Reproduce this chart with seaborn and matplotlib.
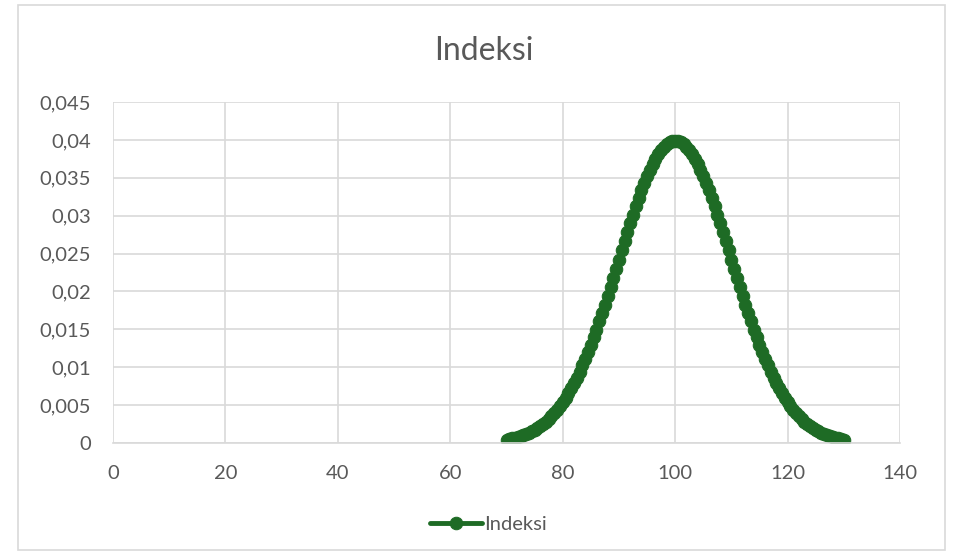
import matplotlib
matplotlib.use("Agg")
import matplotlib.pyplot as plt
import seaborn as sns
import pandas as pd
from matplotlib.ticker import FuncFormatter, MultipleLocator
from matplotlib.patches import Rectangle

# Data (x from 70 to 130, step 0.5)
x_values = [70 + 0.5 * i for i in range(121)]
y_values = [
    0.00044, 0.00051, 0.00060, 0.00069, 0.00079, 0.00091, 0.00104, 0.00119,
    0.00136, 0.00155, 0.00175, 0.00198, 0.00224, 0.00252, 0.00283, 0.00317,
    0.00355, 0.00396, 0.00440, 0.00488, 0.00540, 0.00596, 0.00656, 0.00721,
    0.00790, 0.00863, 0.00940, 0.01023, 0.01109, 0.01200, 0.01295, 0.01394,
    0.01497, 0.01604, 0.01714, 0.01826, 0.01942, 0.02059, 0.02179, 0.02299,
    0.02420, 0.02541, 0.02661, 0.02780, 0.02897, 0.03011, 0.03123, 0.03230,
    0.03332, 0.03429, 0.03521, 0.03605, 0.03683, 0.03752, 0.03814, 0.03867,
    0.03910, 0.03945, 0.03970, 0.03984, 0.03989,
    0.03984, 0.03970, 0.03945, 0.03910, 0.03867, 0.03814, 0.03752, 0.03683,
    0.03605, 0.03521, 0.03429, 0.03332, 0.03230, 0.03123, 0.03011, 0.02897,
    0.02780, 0.02661, 0.02541, 0.02420, 0.02299, 0.02179, 0.02059, 0.01942,
    0.01826, 0.01714, 0.01604, 0.01497, 0.01394, 0.01295, 0.01200, 0.01109,
    0.01023, 0.00940, 0.00863, 0.00790, 0.00721, 0.00656, 0.00596, 0.00540,
    0.00488, 0.00440, 0.00396, 0.00355, 0.00317, 0.00283, 0.00252, 0.00224,
    0.00198, 0.00175, 0.00155, 0.00136, 0.00119, 0.00104, 0.00091, 0.00079,
    0.00069, 0.00060, 0.00051, 0.00044,
]
series_name = "Indeksi"
title = "Indeksi"

df = pd.DataFrame({"x": x_values, "y": y_values})

sns.set_style("white")
plt.rcParams["font.family"] = ["Lato", "DejaVu Sans"]

green = "#1e6b25"
text_gray = "#595959"
grid_gray = "#d9d9d9"

fig = plt.figure(figsize=(9.54, 5.54), dpi=100)
ax = fig.add_axes([0.1185, 0.2004, 0.8249, 0.6155])

sns.lineplot(data=df, x="x", y="y", ax=ax, color=green, linewidth=3.5,
             marker="o", markersize=9, markeredgecolor=green,
             label=series_name, sort=False)

ax.set_xlim(0, 140)
ax.set_ylim(0, 0.045)
ax.xaxis.set_major_locator(MultipleLocator(20))
ax.yaxis.set_major_locator(MultipleLocator(0.005))
ax.yaxis.set_major_formatter(FuncFormatter(lambda v, p: f"{round(v, 3):g}".replace(".", ",")))

ax.grid(True, color=grid_gray, linewidth=1.2)
ax.set_axisbelow(True)
for side in ["top", "right", "left"]:
    ax.spines[side].set_visible(False)
ax.spines["bottom"].set_color(grid_gray)
ax.spines["bottom"].set_linewidth(1.2)

ax.tick_params(axis="y", length=0, labelsize=14.5, colors=text_gray, pad=16)
ax.tick_params(axis="x", length=0, labelsize=14.5, colors=text_gray, pad=16)
ax.set_xlabel("")
ax.set_ylabel("")

# title and legend are centred on the whole chart area, not the plot area
ax.set_title(title, fontsize=23, color=text_gray, pad=30, x=0.471)

leg = ax.legend(loc="upper center", bbox_to_anchor=(0.477, -0.16), frameon=False,
                fontsize=14.5, handlelength=2.6, handletextpad=0.1)
for t in leg.get_texts():
    t.set_color(text_gray)

# outer chart border
fig.patches.append(Rectangle((0.019, 0.007), 0.972, 0.984, transform=fig.transFigure,
                             fill=False, edgecolor=grid_gray, linewidth=1.2))

plt.savefig("out.png", dpi=100)
plt.close()
